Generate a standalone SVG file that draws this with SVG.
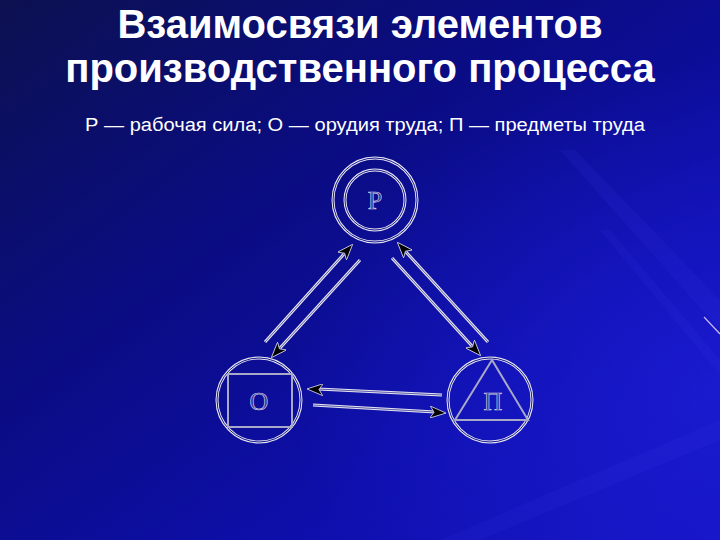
<svg xmlns="http://www.w3.org/2000/svg" width="720" height="540" viewBox="0 0 720 540">
<defs>
<linearGradient id="bg" x1="0" y1="0" x2="1" y2="1">
<stop offset="0" stop-color="#0c1150"/>
<stop offset="0.35" stop-color="#0a0c80"/>
<stop offset="0.7" stop-color="#0e0fab"/>
<stop offset="1" stop-color="#1414c0"/>
</linearGradient>
<radialGradient id="glow" cx="1" cy="0.72" r="0.6">
<stop offset="0" stop-color="#2020e0" stop-opacity="0.6"/>
<stop offset="1" stop-color="#2020e0" stop-opacity="0"/>
</radialGradient>
<marker id="ah" viewBox="0 0 16 12" refX="15" refY="6" markerWidth="16" markerHeight="12" markerUnits="userSpaceOnUse" orient="auto">
<path d="M0,0 L16,6 L0,12 L4,6 Z" fill="#000" stroke="#e0e0f0" stroke-width="0.8"/>
</marker>
<style>
.title{font-family:"Liberation Sans",Arial,sans-serif;font-weight:bold;font-size:40px;fill:#ffffff;text-anchor:middle}
.sub{font-family:"Liberation Sans",Arial,sans-serif;font-size:18px;fill:#ffffff}
.ring{fill:none;stroke:#e6e6f2;stroke-width:3}
.ringc{fill:none;stroke:#1a1a90;stroke-width:1}
.shape{fill:none;stroke:#a8a8c8;stroke-width:2}
.lbl{font-family:"Liberation Serif","Times New Roman",serif;font-size:26px;font-weight:normal;fill:#3030a0;stroke:#d0d0e2;stroke-width:0.7;text-anchor:middle}
.lnw{stroke:#e6e6f2;stroke-width:3;fill:none}
.lnc{stroke:#5a5aa8;stroke-width:1;fill:none}
</style>
</defs>
<rect width="720" height="540" fill="url(#bg)"/>
<rect width="720" height="540" fill="url(#glow)"/>
<g opacity="0.12" fill="#3a3ae8">
<polygon points="720,300 720,330 560,150 575,150"/>
<polygon points="720,420 720,440 480,540 440,540"/>
<polygon points="720,360 720,375 600,230 610,230"/>
</g>
<line x1="704" y1="317" x2="720" y2="334" stroke="#c8b8f0" stroke-width="1.2"/>

<text class="title" x="360" y="38">Взаимосвязи элементов</text>
<text class="title" x="360" y="82">производственного процесса</text>
<text class="sub" x="85" y="131" textLength="560" lengthAdjust="spacingAndGlyphs">Р — рабочая сила; О — орудия труда; П — предметы труда</text>

<g id="node-P">
<circle class="ring" cx="375" cy="200" r="42"/>
<circle class="ringc" cx="375" cy="200" r="42"/>
<circle class="ring" cx="375" cy="200" r="30"/>
<circle class="ringc" cx="375" cy="200" r="30"/>
<text class="lbl" x="375" y="209">Р</text>
</g>

<g id="node-O">
<circle class="ring" cx="259" cy="400" r="42"/>
<circle class="ringc" cx="259" cy="400" r="42"/>
<rect class="shape" x="228" y="374" width="64" height="53"/>
<text class="lbl" x="259" y="410">О</text>
</g>

<g id="node-Pi">
<circle class="ring" cx="490" cy="400" r="42"/>
<circle class="ringc" cx="490" cy="400" r="42"/>
<polygon class="shape" points="492,360 455,420 528,420"/>
<text class="lbl" x="493" y="410">П</text>
</g>

<g id="connectors">
<line class="lnw" x1="265" y1="342" x2="344" y2="254"/>
<line class="lnc" x1="265" y1="342" x2="344" y2="254"/>
<path d="M265,342 L352,245" fill="none" marker-end="url(#ah)"/>
<line class="lnw" x1="360" y1="260" x2="280" y2="348"/>
<line class="lnc" x1="360" y1="260" x2="280" y2="348"/>
<path d="M360,260 L272,357" fill="none" marker-end="url(#ah)"/>

<line class="lnw" x1="488" y1="342" x2="406" y2="252"/>
<line class="lnc" x1="488" y1="342" x2="406" y2="252"/>
<path d="M488,342 L398,243" fill="none" marker-end="url(#ah)"/>
<line class="lnw" x1="392" y1="258" x2="472" y2="346"/>
<line class="lnc" x1="392" y1="258" x2="472" y2="346"/>
<path d="M392,258 L480,355" fill="none" marker-end="url(#ah)"/>

<line class="lnw" x1="442" y1="395" x2="318" y2="389"/>
<line class="lnc" x1="442" y1="395" x2="318" y2="389"/>
<path d="M442,395 L308,389" fill="none" marker-end="url(#ah)"/>
<line class="lnw" x1="313" y1="405" x2="435" y2="412"/>
<line class="lnc" x1="313" y1="405" x2="435" y2="412"/>
<path d="M313,405 L445,413" fill="none" marker-end="url(#ah)"/>
</g>
</svg>
